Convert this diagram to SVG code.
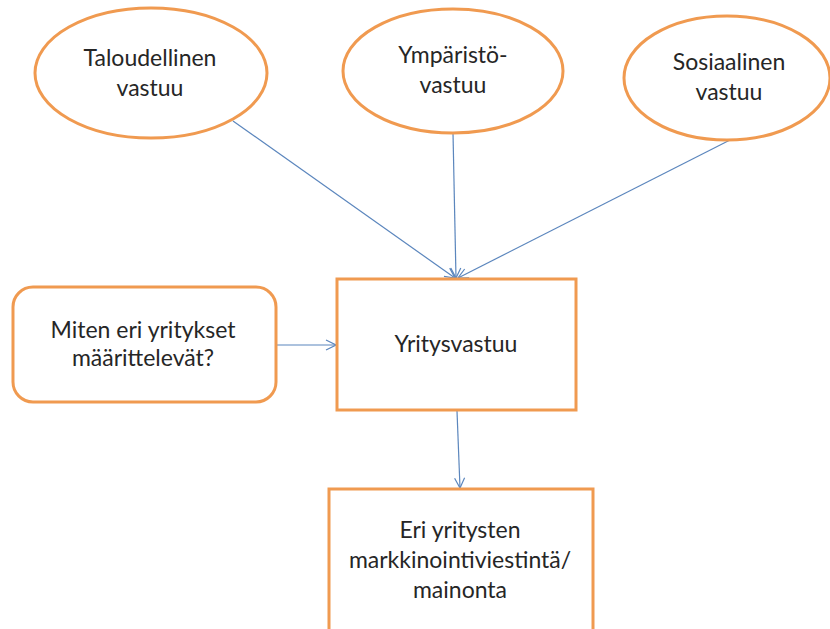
<svg xmlns="http://www.w3.org/2000/svg" width="830" height="629" viewBox="0 0 830 629">
<style>
.n{fill:#fff;stroke:#F09A50;stroke-width:3}
.t{font-family:Lato,"Open Sans",sans-serif;font-size:23px;fill:#262626;text-anchor:middle}
.c{stroke:#5B86BD;stroke-width:1.2;fill:none}
</style>
<defs>
<marker id="a" viewBox="0 0 12 12" refX="11" refY="6" markerWidth="12" markerHeight="12" markerUnits="userSpaceOnUse" orient="auto">
<polyline points="1,1 11,6 1,11" fill="none" stroke="#5B86BD" stroke-width="1.2"/>
</marker>
</defs>
<rect width="830" height="629" fill="#fff"/>
<g id="connectors">
<line class="c" x1="233" y1="121" x2="455" y2="278" marker-end="url(#a)"/>
<line class="c" x1="453" y1="133" x2="456" y2="278" marker-end="url(#a)"/>
<line class="c" x1="730" y1="140" x2="458" y2="278" marker-end="url(#a)"/>
<line class="c" x1="277" y1="345" x2="336" y2="345" marker-end="url(#a)"/>
<line class="c" x1="457" y1="411" x2="460" y2="488" marker-end="url(#a)"/>
</g>
<g id="taloudellinen">
<ellipse class="n" cx="151" cy="73" rx="116" ry="65"/>
<text class="t" x="150" y="66">Taloudellinen</text>
<text class="t" x="150" y="96">vastuu</text>
</g>
<g id="ymparisto">
<ellipse class="n" cx="453" cy="71" rx="110" ry="62"/>
<text class="t" x="453" y="63">Ympäristö-</text>
<text class="t" x="453" y="93">vastuu</text>
</g>
<g id="sosiaalinen">
<ellipse class="n" cx="727" cy="78" rx="103" ry="62"/>
<text class="t" x="729" y="70">Sosiaalinen</text>
<text class="t" x="729" y="100">vastuu</text>
</g>
<g id="miten">
<rect class="n" x="13" y="287" width="263" height="115" rx="20"/>
<text class="t" x="143" y="338">Miten eri yritykset</text>
<text class="t" x="143" y="366">määrittelevät?</text>
</g>
<g id="yritysvastuu">
<rect class="n" x="337" y="279" width="239" height="131"/>
<text class="t" x="456" y="352">Yritysvastuu</text>
</g>
<g id="viestinta">
<rect class="n" x="329" y="489" width="264" height="160"/>
<text class="t" x="460" y="538">Eri yritysten</text>
<text class="t" x="460" y="568">markkinointiviestintä/</text>
<text class="t" x="460" y="598">mainonta</text>
</g>
</svg>
